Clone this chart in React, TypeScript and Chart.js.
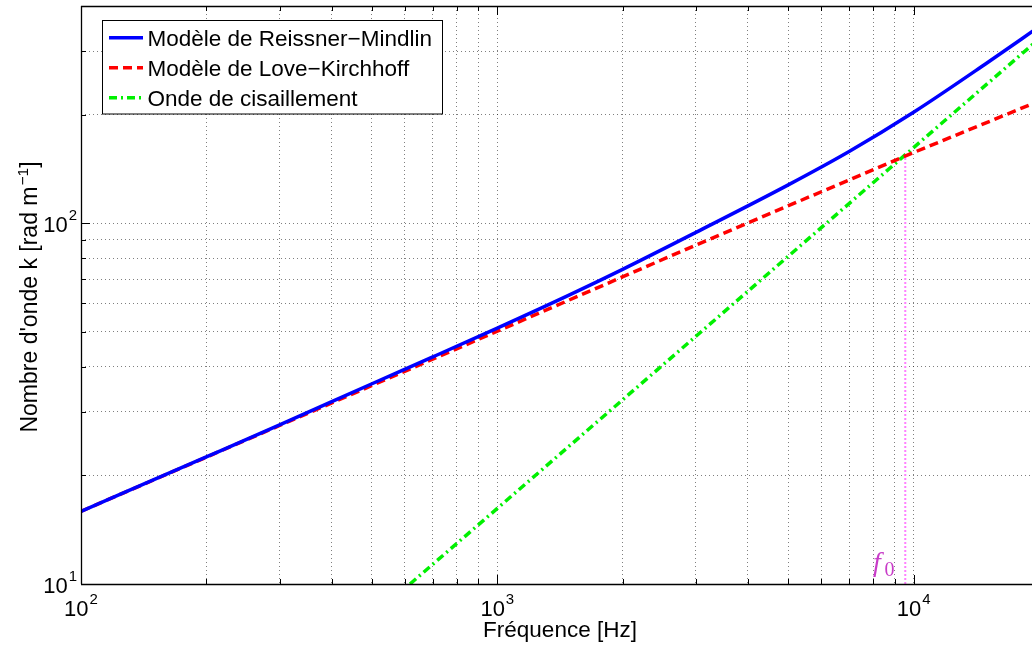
import React, { useEffect, useRef } from 'react';
import { Chart, registerables } from 'chart.js';

Chart.register(...registerables);

// ---- data ----
const freqRM = [100, 200, 300, 500, 700, 1000, 1500, 2000, 3000, 5000, 7000, 10000, 15000, 20000];
const kRM = [15.9, 22.5, 27.6, 35.9, 42.6, 51.2, 63.5, 74.5, 94.3, 127.7, 158, 203, 278, 350];

const freqLK = [100, 300, 1000, 3000, 10000, 20000];
const kLK = [15.9, 27.5, 50.2, 87, 157, 218];

const freqSW = [617, 1000, 2000, 5000, 10000, 20000];
const kSW = [10, 16.2, 32.4, 81, 162, 324];

const f0Freq = [9550, 9550];
const f0K = [10, 156];

const xGrid = [100, 200, 300, 400, 500, 600, 700, 800, 900, 1000, 2000, 3000, 4000, 5000, 6000, 7000, 8000, 9000, 10000];
const yGrid = [10, 20, 30, 40, 50, 60, 70, 80, 90, 100, 200, 300, 400];
const xMajor = [100, 1000, 10000];
const xMajorExp = ['2', '3', '4'];
const yMajor = [10, 100];
const yMajorExp = ['1', '2'];

const seriesLabels = ['Modèle de Reissner\u2212Mindlin', 'Modèle de Love\u2212Kirchhoff', 'Onde de cisaillement'];
const xTitle = 'Fréquence [Hz]';
const yTitleMain = "Nombre d'onde k [rad m";
const yTitleSup = '\u22121';
const yTitleEnd = ']';

const SANS = '"Liberation Sans", Arial, Helvetica, sans-serif';
const SERIF = '"Liberation Serif", "Times New Roman", serif';

const pts = (xs: number[], ys: number[]) => xs.map((x, i) => ({ x, y: ys[i] }));

const overlay = {
  id: 'overlay',
  afterDraw(chart: any) {
    const { ctx, chartArea: ca, scales } = chart;
    const xs = scales.x;
    const ys = scales.y;
    ctx.save();
    ctx.setLineDash([]);
    // box borders
    ctx.strokeStyle = '#000';
    ctx.lineWidth = 1.3;
    ctx.beginPath();
    ctx.moveTo(ca.left, ca.top + 0.5);
    ctx.lineTo(ca.right, ca.top + 0.5);
    ctx.moveTo(ca.left + 0.5, ca.top);
    ctx.lineTo(ca.left + 0.5, ca.bottom);
    ctx.moveTo(ca.left, ca.bottom + 0.5);
    ctx.lineTo(ca.right, ca.bottom + 0.5);
    ctx.stroke();
    // tick marks
    ctx.lineWidth = 1;
    ctx.beginPath();
    for (const v of xGrid) {
      const px = Math.round(xs.getPixelForValue(v)) + 0.5;
      const L = xMajor.includes(v) ? 9 : 5;
      ctx.moveTo(px, ca.bottom);
      ctx.lineTo(px, ca.bottom - L);
      ctx.moveTo(px, ca.top);
      ctx.lineTo(px, ca.top + L);
    }
    for (const v of yGrid) {
      const py = Math.round(ys.getPixelForValue(v)) + 0.5;
      const L = yMajor.includes(v) ? 9 : 5;
      ctx.moveTo(ca.left, py);
      ctx.lineTo(ca.left + L, py);
    }
    ctx.stroke();

    // tick labels
    ctx.fillStyle = '#000';
    ctx.textBaseline = 'alphabetic';
    ctx.textAlign = 'left';
    const measure = (t: string, size: number) => {
      ctx.font = `${size}px ${SANS}`;
      return ctx.measureText(t).width;
    };
    xMajor.forEach((v, i) => {
      const px = xs.getPixelForValue(v);
      const w1 = measure('10', 22);
      const w2 = measure(xMajorExp[i], 15);
      const start = px - (w1 + w2 + 1) / 2;
      ctx.font = `22px ${SANS}`;
      ctx.fillText('10', start, 616);
      ctx.font = `15px ${SANS}`;
      ctx.fillText(xMajorExp[i], start + w1 + 1, 604);
    });
    yMajor.forEach((v, i) => {
      const py = ys.getPixelForValue(v);
      const w1 = measure('10', 22);
      const w2 = measure(yMajorExp[i], 15);
      const end = 77;
      const start = end - (w1 + w2 + 1);
      ctx.font = `22px ${SANS}`;
      ctx.fillText('10', start, py + 8.5);
      ctx.font = `15px ${SANS}`;
      ctx.fillText(yMajorExp[i], start + w1 + 1, py - 3.5);
    });

    // x title
    ctx.font = `22.5px ${SANS}`;
    ctx.textAlign = 'center';
    ctx.fillText(xTitle, 560, 637);

    // y title (rotated)
    ctx.save();
    ctx.translate(36.5, 297);
    ctx.rotate(-Math.PI / 2);
    ctx.textAlign = 'left';
    const wa = measure(yTitleMain, 23);
    const wb = measure(yTitleSup, 15.5);
    const wc = measure(yTitleEnd, 23);
    let sx = -(wa + wb + wc + 1) / 2;
    ctx.font = `23px ${SANS}`;
    ctx.fillText(yTitleMain, sx, 0);
    sx += wa + 1;
    ctx.font = `15.5px ${SANS}`;
    ctx.fillText(yTitleSup, sx, -9);
    sx += wb;
    ctx.font = `23px ${SANS}`;
    ctx.fillText(yTitleEnd, sx, 0);
    ctx.restore();

    // f0 label
    ctx.fillStyle = '#c83cc8';
    ctx.textAlign = 'left';
    ctx.font = `italic 28px ${SERIF}`;
    ctx.fillText('f', 873, 571);
    ctx.font = `20px ${SERIF}`;
    ctx.fillText('0', 884.5, 576);

    // legend
    const lx = 102.5, ly = 20.5, lw = 340, lh = 93.5;
    ctx.fillStyle = '#fff';
    ctx.fillRect(lx, ly, lw, lh);
    ctx.strokeStyle = '#000';
    ctx.lineWidth = 1;
    ctx.setLineDash([]);
    ctx.strokeRect(lx, ly, lw, lh);
    const rows = [37.7, 67.7, 97.7];
    seriesLabels.forEach((lab, i) => {
      const ds = chart.data.datasets[i];
      ctx.save();
      ctx.strokeStyle = ds.borderColor;
      ctx.lineWidth = ds.borderWidth;
      ctx.setLineDash(ds.borderDash || []);
      ctx.beginPath();
      ctx.moveTo(109, rows[i]);
      ctx.lineTo(143, rows[i]);
      ctx.stroke();
      ctx.restore();
      ctx.fillStyle = '#000';
      ctx.font = `22.5px ${SANS}`;
      ctx.textAlign = 'left';
      ctx.fillText(lab, 147.5, rows[i] + 8.3);
    });
    ctx.restore();
  },
};

export default function App() {
  const ref = useRef<HTMLCanvasElement>(null);
  useEffect(() => {
    const canvas = ref.current;
    if (!canvas) return;
    const gridOpts = { color: 'rgba(0,0,0,0.5)', lineWidth: 1, drawTicks: false };
    const chart = new Chart(canvas, {
      type: 'line',
      data: {
        datasets: [
          {
            label: seriesLabels[0],
            data: pts(freqRM, kRM),
            borderColor: '#0000ff',
            borderWidth: 3.5,
            pointRadius: 0,
            cubicInterpolationMode: 'monotone',
            fill: false,
          },
          {
            label: seriesLabels[1],
            data: pts(freqLK, kLK),
            borderColor: '#ff0000',
            borderWidth: 3.5,
            borderDash: [9, 5],
            pointRadius: 0,
            fill: false,
          },
          {
            label: seriesLabels[2],
            data: pts(freqSW, kSW),
            borderColor: '#00f000',
            borderWidth: 3.5,
            borderDash: [8, 4, 2, 4],
            pointRadius: 0,
            fill: false,
          },
          {
            label: 'f0',
            data: pts(f0Freq, f0K),
            borderColor: '#ff80ff',
            borderWidth: 2,
            borderDash: [2, 2],
            pointRadius: 0,
            fill: false,
          },
        ],
      } as any,
      options: {
        responsive: false,
        animation: false,
        devicePixelRatio: 1,
        layout: { padding: { top: 6, left: 0, right: 0, bottom: 0 } },
        plugins: { legend: { display: false }, tooltip: { enabled: false } },
        scales: {
          x: {
            type: 'logarithmic',
            min: 100,
            max: 19250,
            afterBuildTicks: (s: any) => {
              s.ticks = xGrid.map((v) => ({ value: v }));
            },
            afterFit: (s: any) => {
              s.height = 64;
            },
            ticks: { display: false },
            grid: gridOpts,
            border: { display: false, dash: [1, 3] },
          },
          y: {
            type: 'logarithmic',
            min: 10,
            max: 400,
            afterBuildTicks: (s: any) => {
              s.ticks = yGrid.map((v) => ({ value: v }));
            },
            afterFit: (s: any) => {
              s.width = 81;
            },
            ticks: { display: false },
            grid: gridOpts,
            border: { display: false, dash: [1, 3] },
          },
        },
      } as any,
      plugins: [overlay],
    });
    return () => chart.destroy();
  }, []);
  return (
    <div style={{ position: 'absolute', left: 0, top: 0, width: 1032, height: 648, background: '#fff' }}>
      <canvas ref={ref} width={1032} height={648} style={{ display: 'block', width: 1032, height: 648 }} />
    </div>
  );
}
